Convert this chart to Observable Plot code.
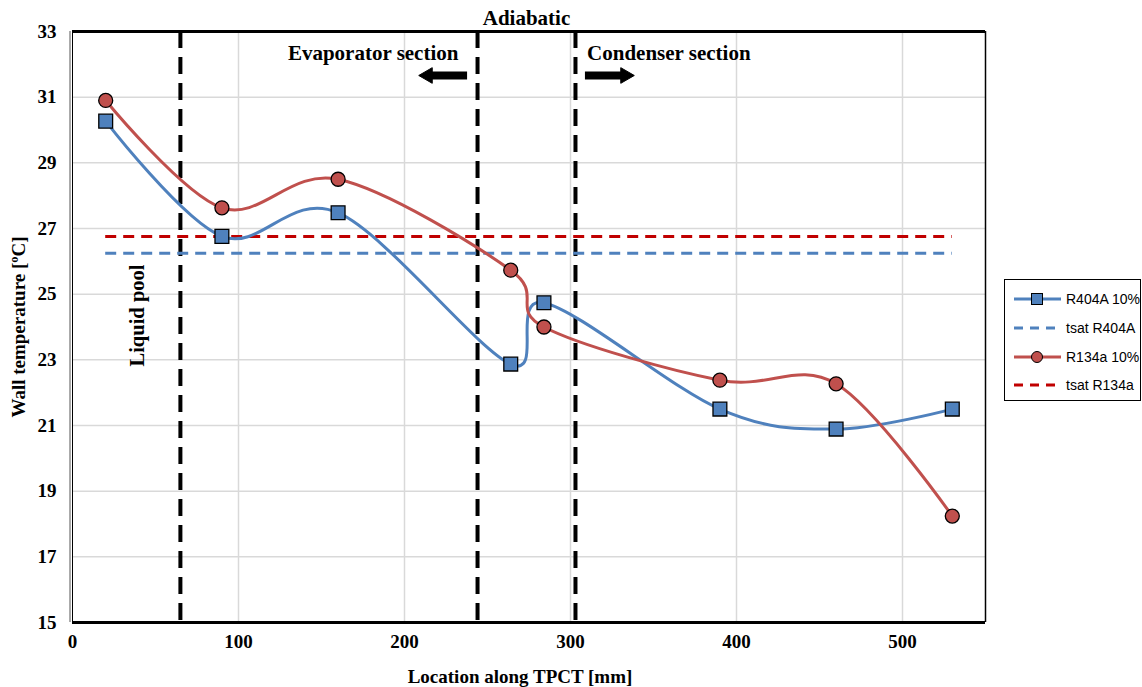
<!DOCTYPE html>
<html>
<head>
<meta charset="utf-8">
<script src="https://cdn.jsdelivr.net/npm/d3@7"></script>
<script src="https://cdn.jsdelivr.net/npm/@observablehq/plot@0.6"></script>
<style>
  html, body { margin: 0; padding: 0; background: #fff; }
  #wrap { position: relative; width: 1142px; height: 687px; }
  #legend { position: absolute; left: 1004px; top: 279px; width: 135px; height: 120px;
    border: 1px solid #000; background: #fff; font-family: "Liberation Sans", Arial, sans-serif; font-size: 14px; color: #000; }
  .row { position: absolute; left: 8px; display: flex; align-items: center; height: 20px; }
  .row svg { margin-right: 3px; }
</style>
</head>
<body>
<div id="wrap"></div>
<script>
// ---- data ----
const locations = [20, 90, 160, 264, 284, 390, 460, 530];
const r404a = [30.27, 26.76, 27.48, 22.87, 24.74, 21.5, 20.89, 21.5];
const r134a = [30.9, 27.63, 28.5, 25.73, 24.0, 22.38, 22.27, 18.24];
const tsatR404A = 26.25;
const tsatR134a = 26.76;
const tsatSpan = [20, 530];
const sectionBounds = [65, 244, 303];
const xTicks = [0, 100, 200, 300, 400, 500];
const yTicks = [15, 17, 19, 21, 23, 25, 27, 29, 31, 33];
const seriesNames = ["R404A 10%", "tsat R404A", "R134a 10%", "tsat R134a"];
// annotation anchors (data units)
const arrowY = 31.66;
const leftArrow = {from: 238, to: 214};
const rightArrow = {from: 309, to: 333};
const liquidPool = {x: 39, y: 24.35};

const blue = "#4F81BD", red = "#C0504D", darkRed = "#C00000";

const d404 = locations.map((x, i) => ({x, y: r404a[i]}));
const d134 = locations.map((x, i) => ({x, y: r134a[i]}));
const serif = "'Liberation Serif', 'Times New Roman', serif";
const bold = {fontFamily: serif, fontWeight: "bold"};

const chart = Plot.plot({
  width: 1142, height: 687,
  marginLeft: 72, marginTop: 31, marginRight: 157, marginBottom: 65,
  style: {fontFamily: serif, fontWeight: "bold", fontSize: "19px", color: "#000", background: "#fff", overflow: "visible"},
  x: {domain: [0, 550]},
  y: {domain: [15, 33]},
  marks: [
    Plot.gridY(yTicks.filter(d => d > 15 && d < 33), {stroke: "#d9d9d9", strokeOpacity: 1, strokeWidth: 1.5}),
    Plot.gridX(xTicks.filter(d => d > 0), {stroke: "#d9d9d9", strokeOpacity: 1, strokeWidth: 1.5}),
    Plot.axisX({ticks: xTicks, tickSize: 0, tickPadding: 12, label: null, fontSize: 19}),
    Plot.axisY({ticks: yTicks, tickSize: 0, tickPadding: 16, label: null, fontSize: 19}),
    // frame
    Plot.ruleY([33], {stroke: "#000", strokeWidth: 3}),
    Plot.ruleY([15], {stroke: "#000", strokeWidth: 3}),
    Plot.ruleX([550], {stroke: "#000", strokeWidth: 1.5}),
    Plot.ruleX([0], {stroke: "#000", strokeWidth: 1}),
    Plot.ruleX([0], {stroke: "#555", strokeWidth: 1, dx: -2.5}),
    // section boundaries
    Plot.ruleX(sectionBounds, {stroke: "#000", strokeWidth: 4, strokeDasharray: "17,9"}),
    // tsat lines
    Plot.ruleY([tsatR404A], {x1: tsatSpan[0], x2: tsatSpan[1], stroke: blue, strokeWidth: 3, strokeDasharray: "11,7"}),
    Plot.ruleY([tsatR134a], {x1: tsatSpan[0], x2: tsatSpan[1], stroke: darkRed, strokeWidth: 3, strokeDasharray: "11,7"}),
    // series
    Plot.line(d404, {x: "x", y: "y", curve: "cardinal", tension: 0, stroke: blue, strokeWidth: 3}),
    Plot.line(d134, {x: "x", y: "y", curve: "cardinal", tension: 0, stroke: red, strokeWidth: 3}),
    Plot.dot(d404, {x: "x", y: "y", symbol: "square", r: 7.8, fill: blue, stroke: "#000", strokeWidth: 1.3}),
    Plot.dot(d134, {x: "x", y: "y", symbol: "circle", r: 7, fill: red, stroke: "#000", strokeWidth: 1.3}),
    // annotations
    Plot.text(["Adiabatic"], {x: (sectionBounds[1] + sectionBounds[2]) / 2, frameAnchor: "top", lineAnchor: "middle", dy: -13, fontSize: 21, ...bold}),
    Plot.text(["Evaporator section"], {x: sectionBounds[1] - 11.5, frameAnchor: "top", lineAnchor: "middle", dy: 22, textAnchor: "end", fontSize: 21, ...bold}),
    Plot.text(["Condenser section"], {x: sectionBounds[2] + 7, frameAnchor: "top", lineAnchor: "middle", dy: 22, textAnchor: "start", fontSize: 21, ...bold}),
    Plot.text(["Liquid pool"], {x: liquidPool.x, y: liquidPool.y, rotate: -90, textAnchor: "middle", lineAnchor: "middle", fontSize: 20.5, ...bold}),
    Plot.ruleY([arrowY], {x1: leftArrow.from, x2: leftArrow.to, stroke: "#000", strokeWidth: 8}),
    Plot.ruleY([arrowY], {x1: rightArrow.from, x2: rightArrow.to, stroke: "#000", strokeWidth: 8}),
    Plot.dot([leftArrow.to], {x: d => d, y: arrowY, symbol: "triangle", r: 5.8, rotate: -90, fill: "#000", stroke: "#000", strokeWidth: 1}),
    Plot.dot([rightArrow.to], {x: d => d, y: arrowY, symbol: "triangle", r: 5.8, rotate: 90, fill: "#000", stroke: "#000", strokeWidth: 1}),
    // axis titles
    Plot.text(["Location along TPCT [mm]"], {frameAnchor: "bottom", textAnchor: "middle", lineAnchor: "middle", dy: 54, dx: -9, fontSize: 19, ...bold}),
    Plot.text(["Wall temperature [ºC]"], {frameAnchor: "left", textAnchor: "middle", lineAnchor: "middle", dx: -54, rotate: -90, fontSize: 19, ...bold})
  ]
});

const wrap = document.getElementById("wrap");
wrap.appendChild(chart);

// legend
const legend = document.createElement("div");
legend.id = "legend";
const rowTops = [9, 38, 67, 95];
const swatch = [
  `<svg width="50" height="14"><line x1="1" y1="7" x2="48" y2="7" stroke="${blue}" stroke-width="3"/><rect x="18.5" y="1.5" width="11" height="11" fill="${blue}" stroke="#000" stroke-width="1"/></svg>`,
  `<svg width="50" height="14"><line x1="1" y1="7" x2="48" y2="7" stroke="${blue}" stroke-width="3" stroke-dasharray="9,7"/></svg>`,
  `<svg width="50" height="14"><line x1="1" y1="7" x2="48" y2="7" stroke="${red}" stroke-width="3"/><circle cx="24" cy="7" r="5.5" fill="${red}" stroke="#000" stroke-width="1"/></svg>`,
  `<svg width="50" height="14"><line x1="1" y1="7" x2="48" y2="7" stroke="${darkRed}" stroke-width="3" stroke-dasharray="9,7"/></svg>`
];
seriesNames.forEach((name, i) => {
  const row = document.createElement("div");
  row.className = "row";
  row.style.top = rowTops[i] + "px";
  row.innerHTML = swatch[i] + `<span>${name}</span>`;
  legend.appendChild(row);
});
wrap.appendChild(legend);
</script>
</body>
</html>
